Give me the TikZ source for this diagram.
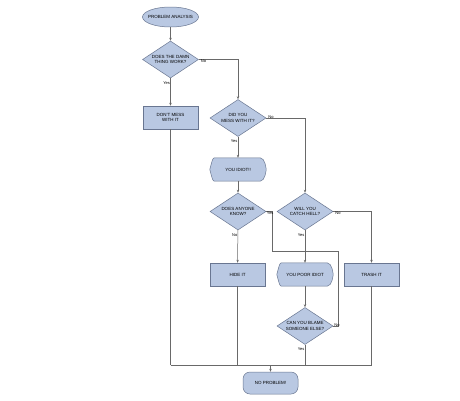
\documentclass[tikz,border=0pt]{standalone}
\usepackage{fontspec}
\setmainfont{Liberation Sans}
\usetikzlibrary{shapes.geometric,arrows.meta}
\definecolor{boxfill}{RGB}{185,200,226}
\definecolor{boxline}{RGB}{105,118,145}
\definecolor{conn}{RGB}{105,105,105}
\begin{document}
\begin{tikzpicture}[x=1pt,y=-1pt,
  every node/.style={font=\fontsize{4.5}{5.2}\selectfont, align=center, inner sep=0pt},
  dia/.style={diamond, draw=boxline, fill=boxfill, line width=0.5pt, minimum width=56pt, minimum height=37pt},
  procbox/.style={rectangle, draw=boxline, fill=boxfill, line width=0.5pt, minimum width=55pt, minimum height=23pt},
  termbox/.style={rectangle, rounded corners=7pt, draw=boxline, fill=boxfill, line width=0.5pt, minimum width=55pt, minimum height=22pt},
  ell/.style={ellipse, draw=boxline, fill=boxfill, line width=0.5pt, minimum width=56pt, minimum height=20pt},
  dispbox/.style={rectangle, minimum width=56pt, minimum height=23pt},
  dispshape/.style={fill=boxfill, draw=boxline, line width=0.5pt},
  lbl/.style={font=\fontsize{4}{4.5}\selectfont},
  cn/.style={draw=conn, line width=0.5pt},
  arr/.style={cn, -{Stealth[length=3pt,width=2.4pt]}}
]
\useasboundingbox (0,0) rectangle (460,400);
\fill[white] (0,0) rectangle (460,400);

% shapes
\node[ell] (e1) at (170.5,17) {};
\node at (e1) {PROBLEM ANALYSIS};
\node[dia] (d1) at (170.5,59.5) {};
\node at (d1) {DOES THE DAMN\\THING WORK?};
\node[procbox] (b1) at (170.5,117.5) {DON'T MESS\\WITH IT};
\node[dia] (d2) at (238,118) {};
\node at (d2) {DID YOU\\MESS WITH IT?};
\node[dispbox] (y1) at (238,169.5) {};
\path[dispshape]
  ([xshift=6pt]y1.north west) -- ([xshift=-6pt]y1.north east)
  .. controls ([xshift=-1pt]y1.north east) and (y1.east) .. (y1.east)
  .. controls (y1.east) and ([xshift=-1pt]y1.south east) .. ([xshift=-6pt]y1.south east)
  -- ([xshift=6pt]y1.south west)
  .. controls ([xshift=3pt]y1.south west) .. (y1.west)
  .. controls ([xshift=3pt]y1.north west) .. ([xshift=6pt]y1.north west) -- cycle;
\node at (y1) {YOU IDIOT!!};
\node[dia] (d3) at (238,211.5) {};
\node at (d3) {DOES ANYONE\\KNOW?};
\node[dia] (d4) at (305,211.5) {};
\node at (d4) {WILL YOU\\CATCH HELL?};
\node[procbox] (h1) at (237.5,274.5) {HIDE IT};
\node[dispbox] (p1) at (305,274.5) {};
\path[dispshape]
  ([xshift=6pt]p1.north west) -- ([xshift=-6pt]p1.north east)
  .. controls ([xshift=-1pt]p1.north east) and (p1.east) .. (p1.east)
  .. controls (p1.east) and ([xshift=-1pt]p1.south east) .. ([xshift=-6pt]p1.south east)
  -- ([xshift=6pt]p1.south west)
  .. controls ([xshift=3pt]p1.south west) .. (p1.west)
  .. controls ([xshift=3pt]p1.north west) .. ([xshift=6pt]p1.north west) -- cycle;
\node at (p1) {YOU POOR IDIOT};
\node[procbox] (t1) at (371.5,274.5) {TRASH IT};
\node[dia] (d5) at (305,326) {};
\node at (d5) {CAN YOU BLAME\\SOMEONE ELSE?};
\node[termbox] (n1) at (270.5,383) {NO PROBLEM!};

% junction coordinates
\coordinate (j1) at (305,251);
\coordinate (m1) at (270.5,365);

% connectors
\draw[arr] (e1) -- (d1);
\draw[arr] (d1.east) -| (d2.north);
\draw[arr] (d1) -- (b1);
\draw[cn] (b1.south) -- (b1.south |- m1);
\draw[arr] (d2.east) -| (d4.north);
\draw[arr] (d2) -- (y1);
\draw[arr] (y1) -- (d3);
\draw[cn] (d3.east) -- (272,211.5) |- (j1);
\draw[arr] (d3) -- (h1);
\draw[arr] (d4.east) -| (t1.north);
\draw[arr] (d4) -- (p1);
\draw[arr] (p1) -- (d5);
\draw[cn] (d5.east) -- (338,326) |- (j1);
\draw[cn] (d5.south) -- (d5.south |- m1);
\draw[cn] (h1.south) -- (h1.south |- m1);
\draw[cn] (t1.south) -- (t1.south |- m1);
\draw[cn] (b1.south |- m1) -- (t1.south |- m1);
\draw[arr] (m1) -- (n1);

% labels
\node[lbl, anchor=north west] at ([xshift=2pt,yshift=-0.5pt]d1.east) {No};
\node[lbl, anchor=north east] at ([xshift=-0.5pt,yshift=-3pt]d1.south) {Yes};
\node[lbl, anchor=south west] at ([xshift=2pt,yshift=-1pt]d2.east) {No};
\node[lbl, anchor=north east] at ([xshift=-0.5pt,yshift=-3pt]d2.south) {Yes};
\node[lbl, anchor=north west] at ([xshift=0.5pt,yshift=-0.5pt]d3.east) {Yes};
\node[lbl, anchor=north east] at ([xshift=-0.5pt,yshift=-3pt]d3.south) {No};
\node[lbl, anchor=north west] at ([xshift=2pt,yshift=-0.5pt]d4.east) {No};
\node[lbl, anchor=north east] at ([xshift=-0.5pt,yshift=-3pt]d4.south) {Yes};
\node[lbl, anchor=south west] at ([xshift=1pt,yshift=-1pt]d5.east) {No};
\node[lbl, anchor=north east] at ([xshift=-0.5pt,yshift=-3pt]d5.south) {Yes};
\end{tikzpicture}
\end{document}
